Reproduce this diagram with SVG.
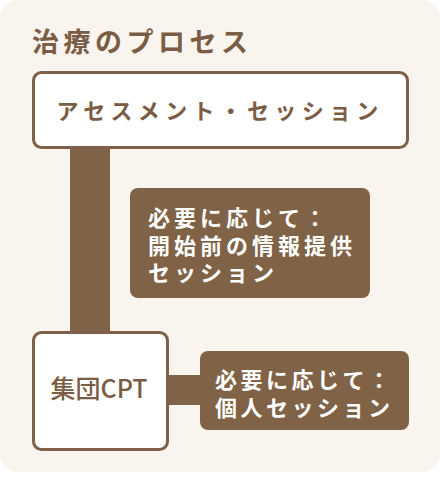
<svg xmlns="http://www.w3.org/2000/svg" width="440" height="481" viewBox="0 0 440 481">
<style>
.t{font-family:"Noto Sans CJK JP","Noto Sans",sans-serif;}
.w{fill:#ffffff;stroke:#7E6148;stroke-width:3;}
.d{fill:#806246;}
.lt{fill:#7A5D44;font-weight:700;}
.wt{fill:#ffffff;font-weight:700;}
</style>
<rect x="0" y="0" width="440" height="472" rx="18" fill="#F9F4EE"/>
<text class="t lt" x="32" y="52" font-size="27" letter-spacing="4.5">治療のプロセス</text>
<g id="connectors">
<rect x="70" y="148" width="40" height="184" class="d"/>
<rect x="168" y="375" width="34" height="30" class="d"/>
</g>
<g id="assessment">
<rect x="33.5" y="72.5" width="374" height="75" rx="8" class="w"/>
<text class="t lt" x="220" y="119" font-size="22" letter-spacing="5.3" text-anchor="middle">アセスメント・セッション</text>
</g>
<g id="info-session">
<rect x="130" y="188" width="240" height="110" rx="8" class="d"/>
<text class="t wt" x="148" y="226" font-size="22" letter-spacing="4">必要に応じて：</text>
<text class="t wt" x="148" y="254" font-size="22" letter-spacing="4">開始前の情報提供</text>
<text class="t wt" x="148" y="281" font-size="22" letter-spacing="4">セッション</text>
</g>
<g id="group-cpt">
<rect x="33.5" y="332.5" width="134" height="117" rx="8" class="w"/>
<text class="t" x="99" y="398" font-size="25" font-weight="500" fill="#7A5D44" text-anchor="middle">集団CPT</text>
</g>
<g id="individual">
<rect x="200" y="351" width="209" height="79" rx="8" class="d"/>
<text class="t wt" x="215" y="388" font-size="22" letter-spacing="3.5">必要に応じて：</text>
<text class="t wt" x="215" y="416" font-size="22" letter-spacing="3.5">個人セッション</text>
</g>
</svg>
